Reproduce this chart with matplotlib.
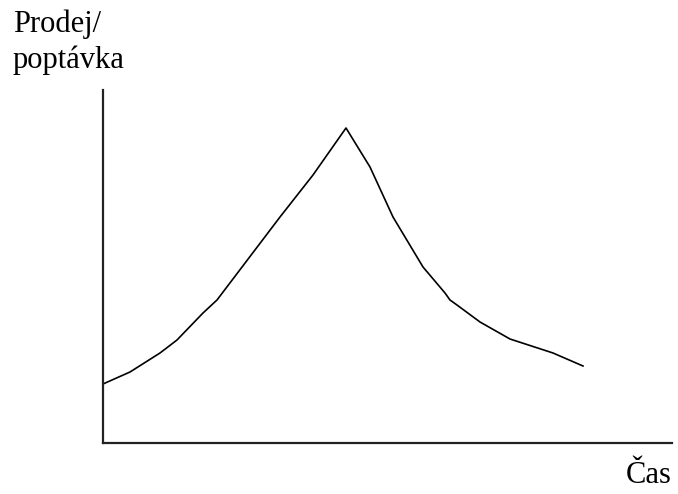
import matplotlib
matplotlib.use('Agg')
from matplotlib import pyplot as plt

# curve (time units / demand units)
cas = [0, 27, 57, 74, 100, 114, 177, 210, 243, 267, 290, 320, 342, 347, 354, 377, 407, 450, 480]
poptavka = [59, 71, 90, 103, 130, 143, 226, 268, 315, 276, 226, 176, 150, 143, 138, 121, 104, 90, 77]

plt.rcParams['font.family'] = ['Liberation Serif', 'DejaVu Serif']

fig = plt.figure(figsize=(6.78, 4.94), dpi=100)
ax = fig.add_axes([103 / 678, 51 / 494, 569 / 678, 353 / 494])

ax.plot(cas, poptavka, color='black', linewidth=1.2)

ax.set_xlim(0, 569)
ax.set_ylim(0, 353)
ax.spines['top'].set_visible(False)
ax.spines['right'].set_visible(False)
ax.spines['left'].set_linewidth(1.6)
ax.spines['bottom'].set_linewidth(1.6)
ax.spines['left'].set_color('#222222')
ax.spines['bottom'].set_color('#222222')
ax.set_xticks([])
ax.set_yticks([])

fig.text(13 / 678, 1 - 32 / 494, 'Prodej/', fontsize=22, va='baseline', ha='left')
fig.text(13 / 678, 1 - 68 / 494, 'poptávka', fontsize=22, va='baseline', ha='left')
fig.text(672 / 678, 1 - 483 / 494, 'Čas', fontsize=22, va='baseline', ha='right')

fig.savefig('out.png')
